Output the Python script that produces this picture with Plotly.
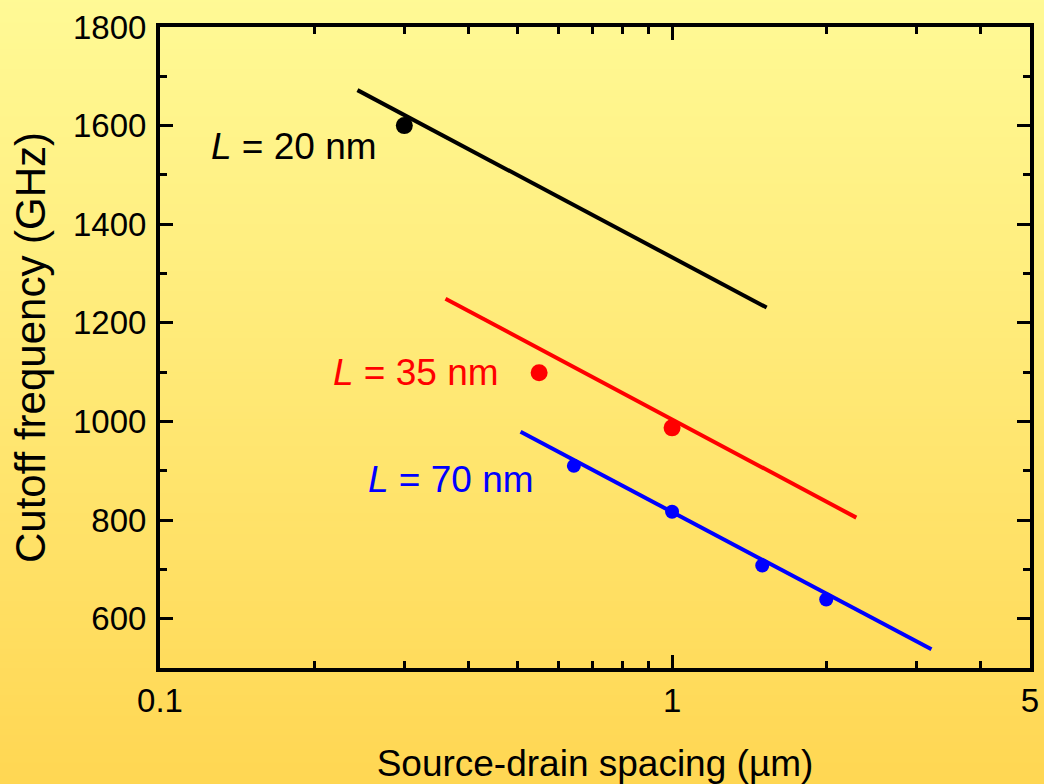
import numpy as np
import plotly.graph_objects as go

# ---- data ----
x_20 = [0.3]
y_20 = [1600]
fit_x_20 = [0.243, 1.53]
fit_y_20 = [1672, 1231]

x_35 = [0.55, 1.0]
y_35 = [1099, 987]
fit_x_35 = [0.361, 2.29]
fit_y_35 = [1249, 805]

x_70 = [0.643, 1.0, 1.5, 2.0]
y_70 = [910, 817, 708, 639]
fit_x_70 = [0.506, 3.21]
fit_y_70 = [979, 538]

x_tickvals = [0.1, 1, 5]
x_ticktext = ["0.1", "1", "5"]
x_minor = [0.2, 0.3, 0.4, 0.5, 0.6, 0.7, 0.8, 0.9, 2, 3, 4]
y_tickvals = [600, 800, 1000, 1200, 1400, 1600, 1800]
y_minor = [700, 900, 1100, 1300, 1500, 1700]

FONT = "Arial, Liberation Sans, sans-serif"

fig = go.Figure()

# markers first (lines drawn over them)
for xs, ys, col, sz in [(x_20, y_20, "black", 17), (x_35, y_35, "red", 17), (x_70, y_70, "blue", 14)]:
    fig.add_trace(go.Scatter(x=xs, y=ys, mode="markers",
                             marker=dict(color=col, size=sz, line=dict(width=0)),
                             showlegend=False, hoverinfo="skip"))
for xs, ys, col in [(fit_x_20, fit_y_20, "black"), (fit_x_35, fit_y_35, "red"), (fit_x_70, fit_y_70, "blue")]:
    fig.add_trace(go.Scatter(x=xs, y=ys, mode="lines",
                             line=dict(color=col, width=4),
                             showlegend=False, hoverinfo="skip"))

# gradient background
top = np.array([255, 250, 150])
bot = np.array([255, 214, 82])
n = 120
y0p, y1p = -0.2, 1.06
shapes = []
for i in range(n):
    t = i / (n - 1)
    c = top * (1 - t) + bot * t
    ya = y1p - (y1p - y0p) * i / n
    yb = y1p - (y1p - y0p) * (i + 1) / n - 0.002
    shapes.append(dict(type="rect", xref="paper", yref="paper", x0=-0.2, x1=1.05,
                       y0=yb, y1=ya, line=dict(width=0),
                       fillcolor="rgb(%d,%d,%d)" % tuple(c.round().astype(int)),
                       layer="below"))

annotations = [
    dict(x=-0.739, y=1557, xref="x", yref="y", text="<i>L</i> = 20 nm",
         showarrow=False, font=dict(size=37, color="black", family=FONT)),
    dict(x=-0.501, y=1099, xref="x", yref="y", text="<i>L</i> = 35 nm",
         showarrow=False, font=dict(size=37, color="red", family=FONT)),
    dict(x=-0.4325, y=882, xref="x", yref="y", text="<i>L</i> = 70 nm",
         showarrow=False, font=dict(size=37, color="blue", family=FONT)),
]

fig.update_layout(
    width=1044, height=784, autosize=False,
    margin=dict(l=160, r=14, t=27, b=116),
    paper_bgcolor="rgb(255,232,120)",
    plot_bgcolor="rgba(0,0,0,0)",
    shapes=shapes,
    annotations=annotations,
    font=dict(family=FONT, color="black", size=33),
)

fig.update_xaxes(
    type="log", range=[-1, np.log10(5)], automargin=False,
    tickmode="array", tickvals=x_tickvals, ticktext=x_ticktext,
    ticks="inside", ticklen=13, tickwidth=3, tickcolor="black",
    showline=True, linewidth=4, linecolor="black", mirror="ticks",
    showgrid=False, zeroline=False,
    tickfont=dict(size=33, family=FONT, color="black"),
    minor=dict(tickmode="array", tickvals=x_minor, ticks="inside", ticklen=7,
               tickwidth=3, tickcolor="black", showgrid=False),
    title=dict(text="Source-drain spacing (µm)", font=dict(size=37, family=FONT, color="black"),
               standoff=35),
)
fig.update_yaxes(
    range=[500, 1800], automargin=False,
    tickmode="array", tickvals=y_tickvals,
    ticks="inside", ticklen=13, tickwidth=3, tickcolor="black",
    showline=True, linewidth=4, linecolor="black", mirror="ticks",
    showgrid=False, zeroline=False, ticklabelstandoff=3,
    tickfont=dict(size=33, family=FONT, color="black"),
    minor=dict(tickmode="array", tickvals=y_minor, ticks="inside", ticklen=7,
               tickwidth=3, tickcolor="black", showgrid=False),
    title=dict(text="Cutoff frequency (GHz)", font=dict(size=42, family=FONT, color="black"),
               standoff=15),
)

fig.write_html("out.html", config={"displayModeBar": False},
               post_script="document.body.style.margin='0';document.body.style.overflow='hidden';")
